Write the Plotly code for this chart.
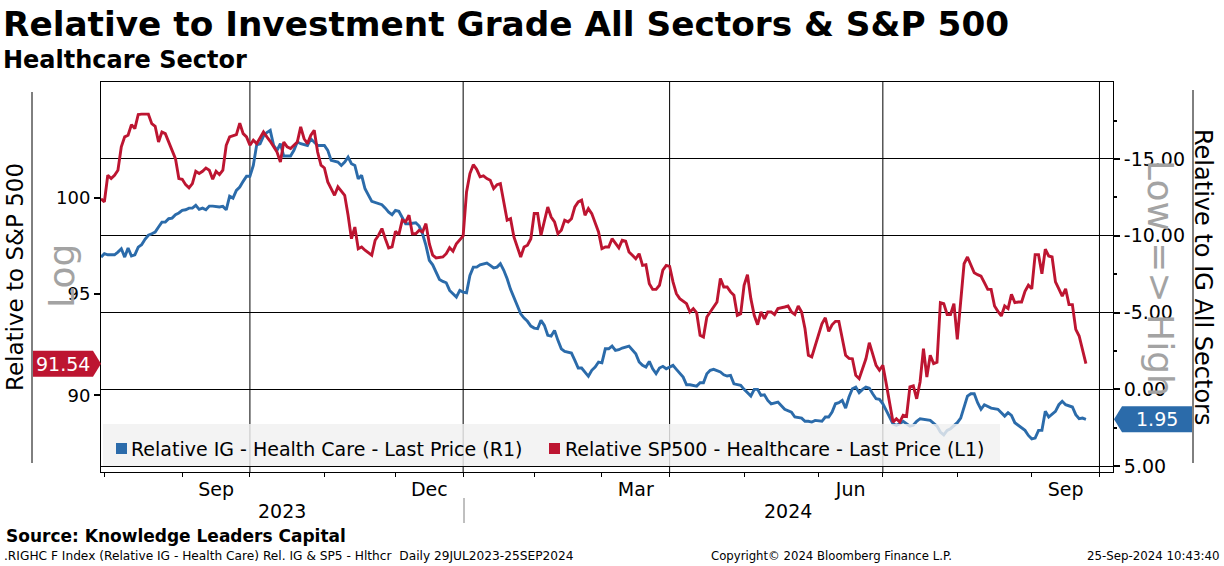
import math
import plotly.graph_objects as go

# ---------------- data ----------------
red_dates = [
    "2023-07-31", "2023-08-01", "2023-08-02", "2023-08-03", "2023-08-04", "2023-08-07", "2023-08-08", "2023-08-09",
    "2023-08-10", "2023-08-11", "2023-08-14", "2023-08-15", "2023-08-16", "2023-08-18", "2023-08-21", "2023-08-22",
    "2023-08-23", "2023-08-24", "2023-08-25", "2023-08-28", "2023-08-29", "2023-08-30", "2023-08-31", "2023-09-01",
    "2023-09-05", "2023-09-06", "2023-09-07", "2023-09-08", "2023-09-11", "2023-09-12", "2023-09-13", "2023-09-14",
    "2023-09-15", "2023-09-18", "2023-09-19", "2023-09-20", "2023-09-21", "2023-09-22", "2023-09-26", "2023-09-27",
    "2023-09-28", "2023-09-29", "2023-10-02", "2023-10-03", "2023-10-04", "2023-10-06", "2023-10-09", "2023-10-10",
    "2023-10-12", "2023-10-13", "2023-10-16", "2023-10-17", "2023-10-18", "2023-10-20", "2023-10-23", "2023-10-24",
    "2023-10-25", "2023-10-26", "2023-10-27", "2023-10-30", "2023-10-31", "2023-11-01", "2023-11-02", "2023-11-03",
    "2023-11-06", "2023-11-07", "2023-11-09", "2023-11-10", "2023-11-13", "2023-11-14", "2023-11-15", "2023-11-16",
    "2023-11-17", "2023-11-21", "2023-11-22", "2023-11-24", "2023-11-27", "2023-11-28", "2023-11-29", "2023-11-30",
    "2023-12-01", "2023-12-04", "2023-12-05", "2023-12-06", "2023-12-07", "2023-12-08", "2023-12-11", "2023-12-12",
    "2023-12-13", "2023-12-14", "2023-12-15", "2023-12-18", "2023-12-19", "2023-12-21", "2023-12-22", "2023-12-26",
    "2023-12-27", "2023-12-28",
    "2024-01-02", "2024-01-03", "2024-01-04", "2024-01-05", "2024-01-08", "2024-01-09", "2024-01-10", "2024-01-11",
    "2024-01-12", "2024-01-16", "2024-01-17", "2024-01-18", "2024-01-19", "2024-01-22", "2024-01-23", "2024-01-24",
    "2024-01-26", "2024-01-29", "2024-01-30", "2024-01-31", "2024-02-01", "2024-02-02", "2024-02-05", "2024-02-06",
    "2024-02-07", "2024-02-08", "2024-02-09", "2024-02-12", "2024-02-13", "2024-02-14", "2024-02-15", "2024-02-16",
    "2024-02-20", "2024-02-21", "2024-02-22", "2024-02-23", "2024-02-26", "2024-02-27", "2024-02-28", "2024-02-29",
    "2024-03-01", "2024-03-04", "2024-03-05", "2024-03-06", "2024-03-08", "2024-03-11", "2024-03-12", "2024-03-13",
    "2024-03-14", "2024-03-15", "2024-03-18", "2024-03-19", "2024-03-20", "2024-03-21", "2024-03-22", "2024-03-25",
    "2024-03-26", "2024-03-27", "2024-03-28", "2024-04-01", "2024-04-02", "2024-04-03", "2024-04-04", "2024-04-08",
    "2024-04-09", "2024-04-10", "2024-04-11", "2024-04-12", "2024-04-15", "2024-04-16", "2024-04-17", "2024-04-18",
    "2024-04-19", "2024-04-22", "2024-04-23", "2024-04-24", "2024-04-25", "2024-04-26", "2024-04-29", "2024-04-30",
    "2024-05-01", "2024-05-02", "2024-05-03", "2024-05-06", "2024-05-07", "2024-05-08", "2024-05-09", "2024-05-10",
    "2024-05-13", "2024-05-14", "2024-05-15", "2024-05-17", "2024-05-20", "2024-05-21", "2024-05-22", "2024-05-23",
    "2024-05-24", "2024-05-28", "2024-05-29", "2024-05-30", "2024-05-31", "2024-06-03", "2024-06-04", "2024-06-05",
    "2024-06-06", "2024-06-07", "2024-06-10", "2024-06-11", "2024-06-12", "2024-06-13", "2024-06-14", "2024-06-17",
    "2024-06-18", "2024-06-20", "2024-06-21", "2024-06-24", "2024-06-25", "2024-06-26", "2024-06-27", "2024-06-28",
    "2024-07-01", "2024-07-02", "2024-07-03", "2024-07-05", "2024-07-08", "2024-07-09", "2024-07-10", "2024-07-11",
    "2024-07-12", "2024-07-15", "2024-07-16", "2024-07-17", "2024-07-18", "2024-07-19", "2024-07-22", "2024-07-23",
    "2024-07-24", "2024-07-25", "2024-07-26", "2024-07-29", "2024-07-30", "2024-07-31", "2024-08-01", "2024-08-02",
    "2024-08-05", "2024-08-06", "2024-08-07", "2024-08-08", "2024-08-09", "2024-08-12", "2024-08-13", "2024-08-14",
    "2024-08-15", "2024-08-16", "2024-08-19", "2024-08-20", "2024-08-21", "2024-08-22", "2024-08-23", "2024-08-26",
    "2024-08-27", "2024-08-28", "2024-08-29", "2024-08-30", "2024-09-03", "2024-09-04", "2024-09-05", "2024-09-06",
    "2024-09-09", "2024-09-10", "2024-09-11", "2024-09-12", "2024-09-13", "2024-09-16", "2024-09-17", "2024-09-18",
    "2024-09-19", "2024-09-20", "2024-09-23", "2024-09-24", "2024-09-25",
]
red_vals = [
    99.96, 99.79, 101.22, 101.04, 101.22, 101.49, 102.76, 103.31,
    103.40, 103.99, 103.77, 104.55, 104.57, 104.57, 104.04, 103.90,
    103.03, 103.58, 103.49, 103.03, 102.48, 102.12, 101.04, 101.00,
    100.71, 100.54, 100.77, 101.43, 101.31, 101.43, 101.61, 101.49,
    101.00, 101.43, 101.25, 101.49, 102.85, 103.31, 103.44, 104.07,
    103.49, 103.31, 102.85, 103.13, 102.94, 103.58, 103.31, 103.07,
    102.48, 101.94, 103.03, 102.76, 102.67, 103.03, 103.86, 103.21,
    102.94, 103.40, 103.68, 102.48, 101.76, 101.61, 100.86, 100.50,
    100.14, 100.59, 100.14, 99.08, 97.85, 98.46, 97.33, 97.42,
    97.25, 96.99, 97.77, 98.03, 98.38, 97.85, 97.37, 97.42,
    98.24, 98.06, 98.82, 98.73, 99.08, 98.11, 98.11, 98.29,
    98.20, 98.64, 97.59, 96.99, 96.85, 96.90, 97.07, 97.38,
    97.20, 97.59,
    97.99, 100.32, 101.31, 101.79, 101.54, 101.13, 101.18, 101.04,
    100.95, 100.50, 100.71, 100.77, 99.79, 98.82, 98.90, 97.94,
    96.90, 97.42, 97.51, 97.85, 99.17, 99.17, 98.03, 98.73,
    99.52, 98.99, 98.73, 98.11, 98.29, 98.82, 98.73, 98.90,
    99.52, 99.79, 99.88, 99.08, 99.43, 99.17, 98.73, 98.20,
    97.33, 97.42, 97.42, 97.85, 97.37, 97.77, 97.72, 97.16,
    96.99, 96.81, 97.07, 96.47, 96.50, 95.53, 95.24, 95.24,
    95.45, 96.22, 96.47, 96.42, 95.62, 95.02, 94.77, 94.52,
    94.10, 94.27, 94.05, 92.94, 92.85, 93.85, 94.10, 94.35,
    94.60, 95.79, 95.36, 95.36, 95.11, 94.94, 93.93, 94.01,
    95.45, 95.99, 94.77, 93.93, 93.46, 94.10, 93.76, 94.10,
    94.10, 93.97, 94.27, 94.35, 94.40, 94.10, 93.97, 94.40,
    94.10, 93.26, 91.95, 91.87, 92.44, 93.01, 93.51, 93.81,
    93.13, 93.46, 93.63, 93.63, 92.77, 91.95, 91.80, 91.78,
    90.97, 90.81, 91.29, 91.78, 92.57, 91.95, 91.46, 91.22,
    91.46, 90.57, 89.69, 88.73, 88.89, 88.73, 89.05, 89.00,
    90.41, 90.46, 89.84, 90.65, 92.27, 90.89, 91.95, 91.54,
    91.61, 94.57, 94.52, 93.97, 93.97, 94.52, 92.74, 94.69,
    96.55, 96.90, 96.50, 96.09, 95.99, 95.92, 95.58, 95.24,
    95.24, 94.40, 94.13, 93.90, 94.40, 94.27, 94.99, 94.57,
    94.60, 94.60, 95.14, 95.45, 95.27, 97.02, 97.02, 96.04,
    97.30, 96.95, 96.90, 95.62, 95.27, 94.90, 95.27, 94.47,
    94.47, 93.23, 92.90, 92.19, 91.54,
]

blue_dates = [
    "2023-07-31", "2023-08-01", "2023-08-02", "2023-08-04", "2023-08-07", "2023-08-08", "2023-08-09", "2023-08-10",
    "2023-08-11", "2023-08-14", "2023-08-15", "2023-08-16", "2023-08-17", "2023-08-18", "2023-08-21", "2023-08-22",
    "2023-08-23", "2023-08-24", "2023-08-25", "2023-08-28", "2023-08-29", "2023-08-30", "2023-08-31", "2023-09-01",
    "2023-09-05", "2023-09-06", "2023-09-07", "2023-09-08", "2023-09-11", "2023-09-12", "2023-09-13", "2023-09-14",
    "2023-09-15", "2023-09-19", "2023-09-20", "2023-09-21", "2023-09-22", "2023-09-25", "2023-09-26", "2023-09-27",
    "2023-09-28", "2023-09-29", "2023-10-02", "2023-10-03", "2023-10-04", "2023-10-05", "2023-10-06", "2023-10-09",
    "2023-10-10", "2023-10-11", "2023-10-12", "2023-10-13", "2023-10-16", "2023-10-18", "2023-10-19", "2023-10-20",
    "2023-10-23", "2023-10-25", "2023-10-26", "2023-10-27", "2023-10-30", "2023-11-01", "2023-11-02", "2023-11-03",
    "2023-11-06", "2023-11-07", "2023-11-08", "2023-11-09", "2023-11-10", "2023-11-13", "2023-11-14", "2023-11-15",
    "2023-11-16", "2023-11-17", "2023-11-21", "2023-11-22", "2023-11-27", "2023-11-28", "2023-11-29", "2023-11-30",
    "2023-12-01", "2023-12-04", "2023-12-05", "2023-12-06", "2023-12-07", "2023-12-11", "2023-12-12", "2023-12-13",
    "2023-12-14", "2023-12-15", "2023-12-18", "2023-12-19", "2023-12-20", "2023-12-21", "2023-12-22", "2023-12-26",
    "2023-12-28", "2023-12-29",
    "2024-01-02", "2024-01-03", "2024-01-04", "2024-01-05", "2024-01-08", "2024-01-09", "2024-01-11", "2024-01-12",
    "2024-01-16", "2024-01-17", "2024-01-18", "2024-01-19", "2024-01-22", "2024-01-23", "2024-01-24", "2024-01-26",
    "2024-01-29", "2024-01-30", "2024-01-31", "2024-02-01", "2024-02-02", "2024-02-05", "2024-02-06", "2024-02-07",
    "2024-02-08", "2024-02-09", "2024-02-12", "2024-02-13", "2024-02-14", "2024-02-16", "2024-02-20", "2024-02-21",
    "2024-02-22", "2024-02-23", "2024-02-26", "2024-02-27", "2024-02-28", "2024-02-29", "2024-03-01", "2024-03-04",
    "2024-03-05", "2024-03-06", "2024-03-07", "2024-03-08", "2024-03-11", "2024-03-13", "2024-03-14", "2024-03-15",
    "2024-03-18", "2024-03-19", "2024-03-20", "2024-03-21", "2024-03-22", "2024-03-25", "2024-03-26", "2024-03-27",
    "2024-03-28", "2024-04-02", "2024-04-03", "2024-04-04", "2024-04-05", "2024-04-08", "2024-04-09", "2024-04-11",
    "2024-04-12", "2024-04-15", "2024-04-16", "2024-04-17", "2024-04-18", "2024-04-22", "2024-04-23", "2024-04-24",
    "2024-04-25", "2024-04-26", "2024-04-30", "2024-05-01", "2024-05-02", "2024-05-03", "2024-05-06", "2024-05-07",
    "2024-05-08", "2024-05-09", "2024-05-10", "2024-05-13", "2024-05-15", "2024-05-16", "2024-05-17", "2024-05-21",
    "2024-05-22", "2024-05-24", "2024-05-28", "2024-05-29", "2024-05-30", "2024-05-31", "2024-06-04", "2024-06-05",
    "2024-06-06", "2024-06-07", "2024-06-10", "2024-06-11", "2024-06-12", "2024-06-13", "2024-06-14", "2024-06-17",
    "2024-06-18", "2024-06-20", "2024-06-21", "2024-06-24", "2024-06-25", "2024-06-26", "2024-06-27", "2024-06-28",
    "2024-07-01", "2024-07-02", "2024-07-03", "2024-07-05", "2024-07-08", "2024-07-09", "2024-07-10", "2024-07-11",
    "2024-07-12", "2024-07-15", "2024-07-16", "2024-07-17", "2024-07-18", "2024-07-19", "2024-07-22", "2024-07-24",
    "2024-07-25", "2024-07-26", "2024-07-29", "2024-07-30", "2024-07-31", "2024-08-01", "2024-08-02", "2024-08-05",
    "2024-08-06", "2024-08-07", "2024-08-08", "2024-08-09", "2024-08-12", "2024-08-13", "2024-08-14", "2024-08-15",
    "2024-08-19", "2024-08-20", "2024-08-21", "2024-08-22", "2024-08-23", "2024-08-26", "2024-08-27", "2024-08-29",
    "2024-08-30", "2024-09-03", "2024-09-04", "2024-09-05", "2024-09-06", "2024-09-09", "2024-09-10", "2024-09-11",
    "2024-09-12", "2024-09-13", "2024-09-16", "2024-09-17", "2024-09-18", "2024-09-19", "2024-09-20", "2024-09-23",
    "2024-09-24", "2024-09-25",
]
blue_vals = [
    -8.61, -8.83, -8.76, -8.76, -8.94, -9.15, -8.61, -9.20,
    -8.68, -8.76, -9.26, -9.41, -9.77, -10.03, -10.13, -10.24,
    -10.57, -10.89, -10.89, -11.11, -11.15, -11.37, -11.48, -11.65,
    -11.69, -11.80, -11.80, -11.98, -11.72, -11.80, -11.69, -11.93,
    -11.93, -11.87, -11.91, -11.69, -12.58, -12.45, -12.95, -13.17,
    -13.54, -13.87, -13.87, -14.58, -15.92, -15.99, -16.49, -16.72,
    -16.86, -15.88, -15.56, -15.99, -15.19, -15.19, -15.56, -16.10,
    -15.99, -15.88, -16.31, -16.10, -15.88, -15.88, -15.56, -14.91,
    -14.84, -14.80, -14.58, -14.80, -15.12, -14.69, -14.58, -13.71,
    -13.93, -13.06, -12.24, -12.15, -12.02, -11.80, -11.54, -11.37,
    -11.65, -11.59, -11.22, -10.78, -10.78, -10.85, -10.63, -10.13,
    -9.37, -8.40, -8.11, -7.64, -7.16, -7.03, -6.94, -6.44,
    -6.01, -6.44,
    -6.33, -6.29, -7.42, -7.96, -7.96, -8.11, -8.22, -8.07,
    -7.90, -7.96, -8.18, -7.75, -7.20, -6.51, -6.01, -4.92,
    -4.64, -4.43, -4.12, -3.99, -3.95, -4.49, -4.17, -3.52,
    -3.47, -3.84, -3.19, -2.64, -2.47, -2.36, -1.89, -1.39,
    -1.39, -1.13, -0.85, -1.24, -1.45, -1.78, -1.73, -2.64,
    -2.64, -2.82, -2.54, -2.58, -2.69, -2.82, -2.54, -2.32,
    -1.78, -1.56, -1.45, -1.82, -1.34, -1.02, -1.39, -1.50,
    -1.34, -1.56, -1.30, -1.02, -0.80, -0.30, -0.30, -0.21,
    -0.43, -0.43, -1.02, -1.24, -1.30, -1.13, -0.95, -0.87,
    -0.91, -0.36, -0.26, 0.00, 0.22, 0.44, 0.00, 0.00,
    0.39, 0.35, 0.72, 0.94, 0.83, 1.09, 1.30, 1.48,
    1.80, 1.87, 2.08, 2.08, 2.13, 2.02, 2.08, 1.80,
    1.80, 1.48, 0.94, 0.87, 0.72, 1.22, 0.50, -0.04,
    -0.15, 0.22, 0.00, -0.15, -0.08, 0.29, 0.61, 0.65,
    0.94, 1.37, 1.80, 2.24, 2.34, 2.24, 2.08, 2.24,
    2.39, 2.34, 2.08, 1.91, 1.95, 2.02, 2.02, 2.39,
    2.78, 2.96, 2.67, 2.56, 2.39, 2.17, 1.87, 1.15,
    0.44, 0.29, 0.29, 0.87, 1.30, 1.00, 1.09, 1.22,
    1.30, 1.52, 1.74, 1.52, 1.69, 2.17, 2.34, 2.67,
    3.00, 3.22, 3.17, 2.67, 2.67, 1.43, 1.80, 1.59,
    1.43, 1.00, 0.78, 1.00, 1.09, 1.15, 1.65, 1.91,
    1.87, 1.95,
]

red_name = "Relative SP500 - Healthcare - Last Price (L1)"
blue_name = "Relative IG - Health Care - Last Price (R1)"

# non-trading days (US market holidays) removed from the time axis
holidays = ["2023-09-04", "2023-11-23", "2023-12-25", "2024-01-01", "2024-01-15", "2024-02-19",
            "2024-03-29", "2024-05-27", "2024-06-19", "2024-07-04", "2024-09-02"]
month_label_pos = ["2023-09-18", "2023-12-15", "2024-03-15", "2024-06-14 12:00", "2024-09-17"]
month_labels = ["Sep", "Dec", "Mar", "Jun", "Sep"]
month_starts = ["2023-08-01", "2023-09-01", "2023-10-02", "2023-11-01", "2023-12-01", "2024-01-02",
                "2024-02-01", "2024-03-01", "2024-04-01", "2024-05-01", "2024-06-03", "2024-07-01",
                "2024-08-01", "2024-09-03", "2024-10-01"]
quarter_starts = ["2023-10-02", "2024-01-02", "2024-04-01", "2024-07-01", "2024-10-01"]
year_labels = ["2023", "2024"]
year_label_pos = ["2023-10-13 12:00", "2024-05-20"]
left_ticks = [90, 95, 100]
right_ticks = [-15, -10, -5, 0, 5]
right_minor = [-17.5, -12.5, -7.5, -2.5, 2.5]

# ---------------- styling ----------------
W, H = 1224, 566
PL, PR, PT, PB = 101, 1113, 82, 472
RED = "#BD1531"
BLUE = "#2B6BAA"
FONT = "DejaVu Sans"
X_RANGE = ["2023-07-31", "2024-10-05"]
RED_LO, RED_HI = 86.40, 106.38
BLUE_RANGE = [5.38, -20.01]


def fx(px):
    return (px - PL) / (PR - PL)


def fy(py):
    return (PB - py) / (PB - PT)


fig = go.Figure()
fig.add_trace(go.Scatter(x=blue_dates, y=blue_vals, name=blue_name, yaxis="y", mode="lines",
                         line=dict(color=BLUE, width=2.9), showlegend=False, hoverinfo="skip"))
fig.add_trace(go.Scatter(x=red_dates, y=red_vals, name=red_name, yaxis="y2", mode="lines",
                         line=dict(color=RED, width=2.9), showlegend=False, hoverinfo="skip"))

shapes = []
for d in quarter_starts:
    shapes.append(dict(type="line", xref="x", yref="paper", x0=d, x1=d, y0=0, y1=1,
                       line=dict(color="black", width=1), layer="below"))
# legend box
shapes.append(dict(type="rect", xref="paper", yref="paper", x0=fx(103), x1=fx(1000), y0=fy(466), y1=fy(424),
                   fillcolor="rgba(240,240,240,0.82)", line=dict(width=0), layer="above"))
shapes.append(dict(type="rect", xref="paper", yref="paper", x0=fx(116), x1=fx(127), y0=fy(454), y1=fy(443),
                   fillcolor=BLUE, line=dict(width=0), layer="above"))
shapes.append(dict(type="rect", xref="paper", yref="paper", x0=fx(549), x1=fx(560), y0=fy(454), y1=fy(443),
                   fillcolor=RED, line=dict(width=0), layer="above"))
# title rules next to axis titles
shapes.append(dict(type="line", xref="paper", yref="paper", x0=fx(32), x1=fx(32), y0=fy(463), y1=fy(92),
                   line=dict(color="black", width=1)))
shapes.append(dict(type="line", xref="paper", yref="paper", x0=fx(1193), x1=fx(1193), y0=fy(463), y1=fy(90),
                   line=dict(color="black", width=1)))
# year separator
shapes.append(dict(type="line", xref="paper", yref="paper", x0=fx(464), x1=fx(464), y0=fy(523), y1=fy(498),
                   line=dict(color="#808080", width=1)))

# last value tags
red_last = red_vals[-1]
blue_last = blue_vals[-1]
lo, hi = math.log10(RED_LO), math.log10(RED_HI)
red_tag_y = (math.log10(red_last) - lo) / (hi - lo)
blue_tag_y = (blue_last - BLUE_RANGE[0]) / (BLUE_RANGE[1] - BLUE_RANGE[0])
shapes.append(dict(type="path", xref="paper", yref="paper", xsizemode="pixel", ysizemode="pixel",
                   xanchor=0, yanchor=red_tag_y,
                   path="M 0 0 L -8 13 L -68 13 L -68 -13 L -8 -13 Z",
                   fillcolor=RED, line=dict(width=0)))
shapes.append(dict(type="path", xref="paper", yref="paper", xsizemode="pixel", ysizemode="pixel",
                   xanchor=1, yanchor=blue_tag_y,
                   path="M 1 0 L 9 13 L 79 13 L 79 -13 L 9 -13 Z",
                   fillcolor=BLUE, line=dict(width=0)))

ann = []


def text(x, y, s, size, color="black", xanchor="left", yanchor="middle", angle=0, xref="paper"):
    ann.append(dict(x=x, y=y, xref=xref, yref="paper", text=s, showarrow=False, xanchor=xanchor,
                    yanchor=yanchor, textangle=angle, font=dict(family=FONT, size=size, color=color)))


text(fx(1), fy(24), "<b>Relative to Investment Grade All Sectors &amp; S&amp;P 500</b>", 34.3)
text(fx(1), fy(60), "<b>Healthcare Sector</b>", 24)
text(fx(4), fy(536), "<b>Source: Knowledge Leaders Capital</b>", 17)
text(fx(2), fy(556), ".RIGHC F Index (Relative IG - Health Care) Rel. IG &amp; SP5 - Hlthcr \u00a0Daily 29JUL2023-25SEP2024", 12.2)
text(fx(709), fy(556), "Copyright\u00a9 2024 Bloomberg Finance L.P.", 11.7)
text(fx(1222), fy(556), "25-Sep-2024 10:43:40", 11.8, xanchor="right")
text(fx(15), fy(277), "Relative to S&amp;P 500", 23, xanchor="center", angle=-90)
text(fx(1203), fy(277), "Relative to IG All Sectors", 24, xanchor="center", angle=90)
text(fx(61), fy(276), "Log", 36, color="#a3a3a3", xanchor="center", angle=-90)
text(fx(1161), fy(278), "Low =&gt; High", 36, color="#a3a3a3", xanchor="center", angle=90)
for pos, lab in zip(year_label_pos, year_labels):
    text(pos, fy(511), lab, 19, xanchor="center", xref="x")
text(fx(129), fy(449), blue_name, 19)
text(fx(563), fy(449), red_name, 19)
text(fx(63), red_tag_y, f"{red_last:.2f}", 19, color="white", xanchor="center")
text(fx(1157), blue_tag_y, f"{blue_last:.2f}", 19, color="white", xanchor="center")

fig.update_layout(
    width=W, height=H,
    margin=dict(l=PL, r=W - PR, t=PT, b=H - PB, autoexpand=False),
    paper_bgcolor="white", plot_bgcolor="white",
    font=dict(family=FONT, size=18, color="black"),
    showlegend=False,
    hovermode=False,
    xaxis=dict(
        type="date", range=X_RANGE,
        rangebreaks=[dict(bounds=["sat", "mon"]), dict(values=holidays)],
        tickmode="array", tickvals=month_label_pos, ticktext=month_labels, ticks="",
        tickfont=dict(size=19), showgrid=False, zeroline=False,
        showline=True, linecolor="black", linewidth=1, mirror=True,
        minor=dict(tickmode="array", tickvals=month_starts, ticks="outside", ticklen=4,
                   tickcolor="black", tickwidth=1, showgrid=False),
    ),
    yaxis=dict(
        side="right", range=BLUE_RANGE, tickmode="array", tickvals=right_ticks,
        ticktext=[f"{v:.2f}" for v in right_ticks], tickfont=dict(size=19),
        showgrid=True, gridcolor="black", gridwidth=1, zeroline=False,
        showline=True, linecolor="black", linewidth=1,
        ticks="outside", ticklen=6, tickwidth=2, tickcolor="black",
        minor=dict(tickmode="array", tickvals=right_minor, ticks="outside", ticklen=3,
                   tickcolor="black", showgrid=False),
    ),
    yaxis2=dict(
        overlaying="y", side="left", type="log", range=[lo, hi],
        tickmode="array", tickvals=left_ticks, ticktext=[str(v) for v in left_ticks],
        tickfont=dict(size=18), showgrid=False, zeroline=False,
        showline=True, linecolor="black", linewidth=1,
        ticks="outside", ticklen=6, tickwidth=2, tickcolor="black",
    ),
    shapes=shapes,
    annotations=ann,
)

fig.write_html("out.html", config={"displayModeBar": False},
               post_script="document.body.style.margin='0px';document.body.style.overflow='hidden';")
